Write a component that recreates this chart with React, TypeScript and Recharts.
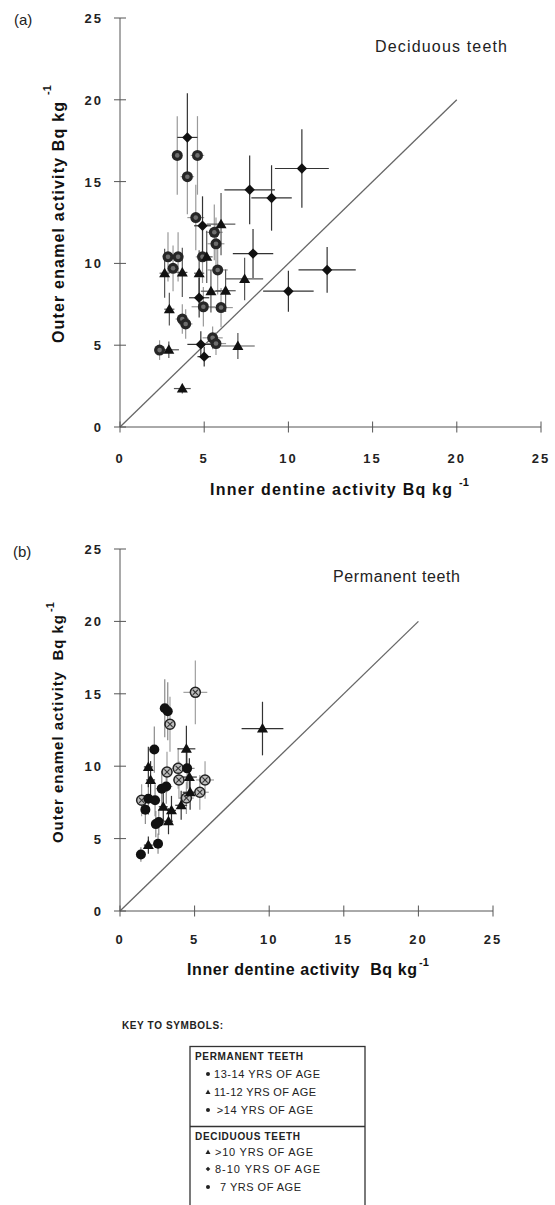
import React from 'react';
import { ScatterChart, Scatter, XAxis, YAxis, ErrorBar, ReferenceLine, Label } from 'recharts';

type Pt = { x: number; y: number; ex: number; ey: number };

// ---- (a) Deciduous teeth ----
const decid8to10Diamonds: Pt[] = [
  { x: 4.0, y: 17.7, ex: 0.6, ey: 2.7 },
  { x: 10.8, y: 15.8, ex: 1.6, ey: 2.4 },
  { x: 7.7, y: 14.5, ex: 1.5, ey: 2.1 },
  { x: 9.0, y: 14.0, ex: 1.2, ey: 2.0 },
  { x: 4.9, y: 12.3, ex: 0.5, ey: 1.8 },
  { x: 7.9, y: 10.6, ex: 1.2, ey: 1.5 },
  { x: 12.3, y: 9.6, ex: 1.7, ey: 1.4 },
  { x: 10.0, y: 8.3, ex: 1.5, ey: 1.25 },
  { x: 4.7, y: 7.9, ex: 0.6, ey: 1.2 },
  { x: 4.8, y: 5.05, ex: 0.8, ey: 0.8 },
  { x: 5.0, y: 4.3, ex: 0.4, ey: 0.6 },
];
const decid7Circles: Pt[] = [
  { x: 3.4, y: 16.6, ex: 0.3, ey: 2.4 },
  { x: 4.6, y: 16.6, ex: 0.4, ey: 2.4 },
  { x: 4.0, y: 15.3, ex: 0.4, ey: 2.3 },
  { x: 4.5, y: 12.8, ex: 0.5, ey: 2.0 },
  { x: 5.6, y: 11.9, ex: 0.5, ey: 1.7 },
  { x: 5.7, y: 11.2, ex: 0.5, ey: 1.6 },
  { x: 2.85, y: 10.4, ex: 0.3, ey: 1.5 },
  { x: 3.45, y: 10.4, ex: 0.3, ey: 1.5 },
  { x: 3.15, y: 9.7, ex: 0.3, ey: 1.4 },
  { x: 4.9, y: 10.4, ex: 0.4, ey: 1.6 },
  { x: 5.8, y: 9.6, ex: 0.6, ey: 1.5 },
  { x: 4.95, y: 7.35, ex: 0.7, ey: 1.2 },
  { x: 6.0, y: 7.3, ex: 0.7, ey: 1.2 },
  { x: 3.7, y: 6.6, ex: 0.4, ey: 0.9 },
  { x: 3.9, y: 6.3, ex: 0.4, ey: 0.9 },
  { x: 2.35, y: 4.7, ex: 0.3, ey: 0.6 },
  { x: 5.5, y: 5.45, ex: 0.6, ey: 0.7 },
  { x: 5.7, y: 5.1, ex: 0.6, ey: 0.7 },
];
const decidOver10Triangles: Pt[] = [
  { x: 6.0, y: 12.4, ex: 0.85, ey: 1.9 },
  { x: 2.65, y: 9.4, ex: 0.3, ey: 1.5 },
  { x: 3.7, y: 9.45, ex: 0.3, ey: 1.5 },
  { x: 4.7, y: 9.4, ex: 0.3, ey: 1.4 },
  { x: 5.15, y: 10.4, ex: 0.35, ey: 1.6 },
  { x: 5.4, y: 8.3, ex: 0.6, ey: 1.3 },
  { x: 6.27, y: 8.33, ex: 0.6, ey: 1.3 },
  { x: 7.4, y: 9.05, ex: 1.1, ey: 1.3 },
  { x: 2.93, y: 7.2, ex: 0.3, ey: 1.0 },
  { x: 7.0, y: 4.95, ex: 1.0, ey: 0.8 },
  { x: 2.9, y: 4.72, ex: 0.6, ey: 0.5 },
  { x: 3.7, y: 2.35, ex: 0.5, ey: 0.3 },
];

// ---- (b) Permanent teeth ----
const perm13to14Circles: Pt[] = [
  { x: 3.0, y: 14.0, ex: 0.3, ey: 2.0 },
  { x: 3.2, y: 13.8, ex: 0.3, ey: 2.0 },
  { x: 2.3, y: 11.15, ex: 0.3, ey: 1.6 },
  { x: 4.5, y: 9.85, ex: 0.5, ey: 1.4 },
  { x: 2.8, y: 8.45, ex: 0.4, ey: 1.2 },
  { x: 3.1, y: 8.6, ex: 0.4, ey: 1.2 },
  { x: 1.9, y: 7.75, ex: 0.3, ey: 1.1 },
  { x: 2.35, y: 7.65, ex: 0.3, ey: 1.1 },
  { x: 1.7, y: 7.0, ex: 0.3, ey: 1.0 },
  { x: 2.4, y: 6.0, ex: 0.3, ey: 0.9 },
  { x: 2.6, y: 6.15, ex: 0.3, ey: 0.9 },
  { x: 2.55, y: 4.65, ex: 0.3, ey: 0.7 },
  { x: 1.4, y: 3.9, ex: 0.2, ey: 0.5 },
];
const perm11to12Triangles: Pt[] = [
  { x: 9.55, y: 12.6, ex: 1.4, ey: 1.85 },
  { x: 4.45, y: 11.2, ex: 0.6, ey: 1.6 },
  { x: 1.9, y: 9.95, ex: 0.3, ey: 1.4 },
  { x: 2.05, y: 9.05, ex: 0.3, ey: 1.3 },
  { x: 4.65, y: 9.25, ex: 0.5, ey: 1.3 },
  { x: 4.7, y: 8.2, ex: 0.5, ey: 1.2 },
  { x: 2.9, y: 7.2, ex: 0.3, ey: 1.0 },
  { x: 3.45, y: 6.95, ex: 0.3, ey: 1.0 },
  { x: 4.1, y: 7.3, ex: 0.4, ey: 1.0 },
  { x: 3.25, y: 6.2, ex: 0.3, ey: 0.9 },
  { x: 1.9, y: 4.55, ex: 0.3, ey: 0.6 },
];
const permOver14Targets: Pt[] = [
  { x: 5.05, y: 15.1, ex: 0.8, ey: 2.2 },
  { x: 3.35, y: 12.9, ex: 0.35, ey: 1.9 },
  { x: 3.15, y: 9.6, ex: 0.4, ey: 1.4 },
  { x: 3.9, y: 9.85, ex: 0.4, ey: 1.4 },
  { x: 3.95, y: 9.05, ex: 0.4, ey: 1.3 },
  { x: 5.7, y: 9.05, ex: 0.6, ey: 1.3 },
  { x: 5.35, y: 8.2, ex: 0.6, ey: 1.2 },
  { x: 4.45, y: 7.8, ex: 0.5, ey: 1.1 },
  { x: 1.45, y: 7.65, ex: 0.3, ey: 1.1 },
];

const axisTicks = [0, 5, 10, 15, 20, 25];
const axisDomain: [number, number] = [0, 25];
const identityLine = [{ x: 0, y: 0 }, { x: 20, y: 20 }];

const FONT = '"Liberation Sans", Arial, Helvetica, sans-serif';

// ---- symbols ----
const DiamondShape = (p: any) => {
  const { cx, cy } = p;
  const r = 5.2;
  return <path d={`M${cx},${cy - r}L${cx + r},${cy}L${cx},${cy + r}L${cx - r},${cy}Z`} fill="#111" />;
};
const TriangleShape = (p: any) => {
  const { cx, cy } = p;
  return <path d={`M${cx},${cy - 5.5}L${cx + 5.5},${cy + 4}L${cx - 5.5},${cy + 4}Z`} fill="#111" />;
};
const RingShape = (p: any) => {
  const { cx, cy } = p;
  return (
    <g>
      <circle cx={cx} cy={cy} r={5.5} fill="#262626" />
      <circle cx={cx} cy={cy} r={2.3} fill="#6e6e6e" />
    </g>
  );
};
const DotShape = (p: any) => {
  const { cx, cy } = p;
  return <circle cx={cx} cy={cy} r={5} fill="#111" />;
};
const TargetShape = (p: any) => {
  const { cx, cy } = p;
  return (
    <g>
      <circle cx={cx} cy={cy} r={5} fill="#bdbdbd" stroke="#222" strokeWidth={1.5} />
      <line x1={cx - 2.6} x2={cx + 2.6} y1={cy - 2.6} y2={cy + 2.6} stroke="#333" strokeWidth={1.1} />
      <line x1={cx - 2.6} x2={cx + 2.6} y1={cy + 2.6} y2={cy - 2.6} stroke="#333" strokeWidth={1.1} />
    </g>
  );
};

// ---- ticks ----
const makeXTick = (axisY: number, labelY: number) => (props: any) => {
  const { x, payload } = props;
  return (
    <g>
      <line x1={x} x2={x} y1={axisY - 5.5} y2={axisY + 5.5} stroke="#555" strokeWidth={1} />
      <text x={x} y={labelY} textAnchor="middle" fontFamily={FONT} fontWeight="bold" fontSize={13}
        letterSpacing={2} fill="#222">{payload.value}</text>
    </g>
  );
};
const makeYTick = (axisX: number) => (props: any) => {
  const { y, payload } = props;
  return (
    <g>
      <line x1={axisX - 6} x2={axisX + 6} y1={y} y2={y} stroke="#555" strokeWidth={1} />
      <text x={axisX - 17} y={y + 5} textAnchor="end" fontFamily={FONT} fontWeight="bold" fontSize={13}
        letterSpacing={2} fill="#222">{payload.value}</text>
    </g>
  );
};

const errX = (color: string) => (
  <ErrorBar dataKey="ex" direction="x" width={0} stroke={color} strokeWidth={1.2} isAnimationActive={false} />
);
const errY = (color: string) => (
  <ErrorBar dataKey="ey" direction="y" width={0} stroke={color} strokeWidth={1.2} isAnimationActive={false} />
);

const ChartA = () => (
  <ScatterChart width={555} height={510} margin={{ top: 18, right: 14, bottom: 53, left: 0 }}>
    <XAxis type="number" dataKey="x" domain={axisDomain} ticks={axisTicks} height={30}
      axisLine={{ stroke: '#555', strokeWidth: 1 }} tickLine={false} tick={makeXTick(427, 463)} interval={0}>
      <Label content={() => (
        <g>
          <text x={210} y={495} fontFamily={FONT} fontWeight="bold" fontSize={16} textLength={242} fill="#111">
            Inner dentine activity Bq kg
          </text>
          <text x={459} y={486} fontFamily={FONT} fontWeight="bold" fontSize={11} fill="#111">-1</text>
        </g>
      )} />
    </XAxis>
    <YAxis type="number" dataKey="y" domain={axisDomain} ticks={axisTicks} width={120}
      axisLine={{ stroke: '#555', strokeWidth: 1 }} tickLine={false} tick={makeYTick(120)} interval={0}>
      <Label content={() => (
        <g>
          <text transform="translate(64,343) rotate(-90)" fontFamily={FONT} fontWeight="bold" fontSize={16}
            textLength={241} fill="#111">Outer enamel activity Bq kg</text>
          <text transform="translate(51,95) rotate(-90)" fontFamily={FONT} fontWeight="bold" fontSize={11}
            fill="#111">-1</text>
          <text x={14} y={25} fontFamily={FONT} fontSize={15} fill="#222">(a)</text>
          <text x={375} y={52} fontFamily={FONT} fontSize={16} textLength={132} fill="#222">Deciduous teeth</text>
        </g>
      )} />
    </YAxis>
    <ReferenceLine segment={identityLine} stroke="#666" strokeWidth={1.3} ifOverflow="visible" />
    <Scatter data={decid7Circles} shape={RingShape} isAnimationActive={false}>
      {errX('#9a9a9a')}
      {errY('#9a9a9a')}
    </Scatter>
    <Scatter data={decidOver10Triangles} shape={TriangleShape} isAnimationActive={false}>
      {errX('#555')}
      {errY('#555')}
    </Scatter>
    <Scatter data={decid8to10Diamonds} shape={DiamondShape} isAnimationActive={false}>
      {errX('#333')}
      {errY('#333')}
    </Scatter>
  </ScatterChart>
);

const ChartB = () => (
  <ScatterChart width={555} height={460} margin={{ top: 19, right: 62, bottom: 49, left: 0 }}>
    <XAxis type="number" dataKey="x" domain={axisDomain} ticks={axisTicks} height={30}
      axisLine={{ stroke: '#555', strokeWidth: 1 }} tickLine={false} tick={makeXTick(381, 414)} interval={0}>
      <Label content={() => (
        <g>
          <text x={187} y={445} fontFamily={FONT} fontWeight="bold" fontSize={16} textLength={230} fill="#111"
            style={{ whiteSpace: 'pre' }}>
            {'Inner dentine activity  Bq kg'}
          </text>
          <text x={419} y={436} fontFamily={FONT} fontWeight="bold" fontSize={11} fill="#111">-1</text>
        </g>
      )} />
    </XAxis>
    <YAxis type="number" dataKey="y" domain={axisDomain} ticks={axisTicks} width={120}
      axisLine={{ stroke: '#555', strokeWidth: 1 }} tickLine={false} tick={makeYTick(120)} interval={0}>
      <Label content={() => (
        <g>
          <text transform="translate(63,313) rotate(-90)" fontFamily={FONT} fontWeight="bold" fontSize={15}
            textLength={228} fill="#111" style={{ whiteSpace: 'pre' }}>{'Outer enamel activity  Bq kg'}</text>
          <text transform="translate(54,82) rotate(-90)" fontFamily={FONT} fontWeight="bold" fontSize={11}
            fill="#111">-1</text>
          <text x={13} y={27} fontFamily={FONT} fontSize={15} fill="#222">(b)</text>
          <text x={333} y={52} fontFamily={FONT} fontSize={16} textLength={127} fill="#222">Permanent teeth</text>
        </g>
      )} />
    </YAxis>
    <ReferenceLine segment={identityLine} stroke="#666" strokeWidth={1.3} ifOverflow="visible" />
    <Scatter data={permOver14Targets} shape={TargetShape} isAnimationActive={false}>
      {errX('#a0a0a0')}
      {errY('#a0a0a0')}
    </Scatter>
    <Scatter data={perm13to14Circles} shape={DotShape} isAnimationActive={false}>
      {errX('#8a8a8a')}
      {errY('#8a8a8a')}
    </Scatter>
    <Scatter data={perm11to12Triangles} shape={TriangleShape} isAnimationActive={false}>
      {errX('#333')}
      {errY('#333')}
    </Scatter>
  </ScatterChart>
);

const keyPermanent = ['13-14 YRS OF AGE', '11-12 YRS OF AGE', ' >14 YRS OF AGE'];
const keyDeciduous = ['>10 YRS OF AGE', '8-10 YRS OF AGE', '7 YRS OF AGE'];

const KeyBox = () => {
  const t = { fontFamily: FONT, fill: '#222' } as const;
  const bullet = (y: number, kind: string) => {
    const cx = 208, cy = y - 4;
    if (kind === 'tri') return <path d={`M${cx},${cy - 2.5}L${cx + 2.5},${cy + 2}L${cx - 2.5},${cy + 2}Z`} fill="#222" />;
    if (kind === 'dia') return <path d={`M${cx},${cy - 2.3}L${cx + 2.3},${cy}L${cx},${cy + 2.3}L${cx - 2.3},${cy}Z`} fill="#222" />;
    return <circle cx={cx} cy={cy} r={2} fill="#222" />;
  };
  const permY = [78, 96, 114];
  const decY = [156, 173, 191];
  const permKinds = ['dot', 'tri', 'dot'];
  const decKinds = ['tri', 'dia', 'dot'];
  return (
    <svg width={555} height={205} style={{ position: 'absolute', left: 0, top: 1000 }}>
      <text x={122} y={29} {...t} fontWeight="bold" fontSize={10} textLength={101}>KEY TO SYMBOLS:</text>
      <rect x={190} y={46.5} width={175} height={200} fill="none" stroke="#333" strokeWidth={1.3} />
      <line x1={190} x2={365} y1={126.5} y2={126.5} stroke="#333" strokeWidth={1.3} />
      <text x={195} y={60} {...t} fontWeight="bold" fontSize={10} textLength={108}>PERMANENT TEETH</text>
      {keyPermanent.map((s, i) => (
        <g key={s}>
          {bullet(permY[i], permKinds[i])}
          <text x={i === 2 ? 213 : 214} y={permY[i]} {...t} fontSize={11} style={{ whiteSpace: 'pre' }}
            textLength={i === 0 ? 106 : i === 1 ? 102 : 100}>{s}</text>
        </g>
      ))}
      <text x={195} y={140} {...t} fontWeight="bold" fontSize={10} textLength={105}>DECIDUOUS TEETH</text>
      {keyDeciduous.map((s, i) => (
        <g key={s}>
          {bullet(decY[i], decKinds[i])}
          <text x={i === 2 ? 220 : 215} y={decY[i]} {...t} fontSize={11}
            textLength={i === 0 ? 98 : i === 1 ? 105 : 81}>{s}</text>
        </g>
      ))}
    </svg>
  );
};

export default function App() {
  return (
    <div style={{ position: 'absolute', left: 0, top: 0, width: 555, height: 1205, background: '#fff', overflow: 'hidden' }}>
      <div style={{ position: 'absolute', left: 0, top: 0 }}>
        <ChartA />
      </div>
      <div style={{ position: 'absolute', left: 0, top: 530 }}>
        <ChartB />
      </div>
      <KeyBox />
    </div>
  );
}
